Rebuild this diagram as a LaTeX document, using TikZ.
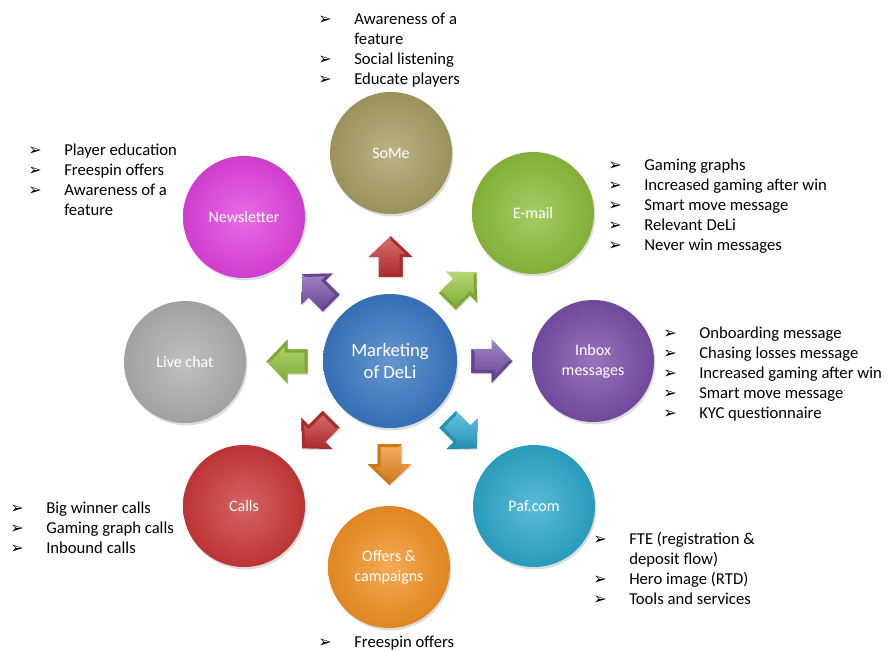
\documentclass[tikz,border=0pt]{standalone}
\usepackage{fontspec}
\setmainfont{Carlito}
\newfontfamily\symfont{DejaVu Sans}
\usetikzlibrary{shadows,calc}
\definecolor{cBlue}{RGB}{58,120,196}
\definecolor{cSoMe}{RGB}{168,158,100}
\definecolor{cMail}{RGB}{141,190,60}
\definecolor{cInbox}{RGB}{122,78,168}
\definecolor{cPaf}{RGB}{44,168,204}
\definecolor{cOffer}{RGB}{242,146,36}
\definecolor{cCalls}{RGB}{204,56,56}
\definecolor{cLive}{RGB}{175,175,175}
\definecolor{cNews}{RGB}{226,66,222}
\definecolor{aRed}{RGB}{200,50,50}
\definecolor{aGreen}{RGB}{150,198,60}
\definecolor{aPurple}{RGB}{120,80,170}
\definecolor{aCyan}{RGB}{40,170,210}
\definecolor{aOrange}{RGB}{240,140,30}
\newcommand{\bl}{\makebox[27pt][l]{\raisebox{0pt}{\symfont\fontsize{12}{10}\selectfont ➢}}}
\newcommand{\cont}{\hspace*{27pt}}
\tikzset{
  hub/.style={circle, minimum size=91.5pt, inner sep=0pt, align=center,
    text=white, font=\fontsize{12}{15}\selectfont,
    inner color=#1!78!white, outer color=#1!92!black,
    drop shadow={opacity=0.28, shadow xshift=1pt, shadow yshift=-1.8pt}},
  lst/.style={anchor=base west, inner sep=0pt, align=left,
    font=\fontsize{12.5}{15}\selectfont},
  pics/barrow/.style={code={
    \path[top color=#1!70!white, bottom color=#1!85!black,
      drop shadow={opacity=0.25, shadow xshift=0.6pt, shadow yshift=-1pt}]
      (-20,-12) -- (0,-12) -- (0,-22) -- (21,0) -- (0,22) -- (0,12) -- (-20,12) -- cycle;
    \fill[#1!85!black] (-20,12) -- (0,12) -- (0,22) -- (21,0) -- (17,0) -- (3,15) -- (3,9) -- (-17,9) -- (-17,-9) -- (-20,-12) -- cycle;
  }}
}
\begin{document}
\begin{tikzpicture}[x=0.75pt,y=-0.75pt]
\useasboundingbox (0,0) rectangle (889,652);
% hubs
\node[hub=cBlue, minimum size=100.5pt, font=\fontsize{14}{17}\selectfont] (ctr) at (390,361) {Marketing\\of DeLi};
\node[hub=cSoMe] (some) at (391,153) {SoMe};
\node[hub=cMail] (email) at (533,213) {E-mail};
\node[hub=cInbox] (inbox) at (593,361) {Inbox\\messages};
\node[hub=cPaf] (paf) at (534,506) {Paf.com};
\node[hub=cOffer] (offers) at (389,567) {Offers \&\\campaigns};
\node[hub=cCalls] (calls) at (244,506) {Calls};
\node[hub=cLive] (live) at (185,362) {Live chat};
\node[hub=cNews] (news) at (244,217) {Newsletter};
% block arrows
\pic[rotate=90]   at ($(ctr)!0.5!(some)$)   {barrow=aRed};
\pic[rotate=45]   at ($(ctr)!0.5!(email)$)  {barrow=aGreen};
\pic[rotate=0]    at ($(ctr)!0.5!(inbox)$)  {barrow=aPurple};
\pic[rotate=-45]  at ($(ctr)!0.5!(paf)$)    {barrow=aCyan};
\pic[rotate=-90]  at ($(ctr)!0.5!(offers)$) {barrow=aOrange};
\pic[rotate=-135] at ($(ctr)!0.5!(calls)$)  {barrow=aRed};
\pic[rotate=180]  at ($(ctr)!0.5!(live)$)   {barrow=aGreen};
\pic[rotate=135]  at ($(ctr)!0.5!(news)$)   {barrow=aPurple};
% lists (anchor = baseline of the last line)
\node[lst] (lsome) at (318,85) {\bl Awareness of a\\\cont feature\\\bl Social listening\\\bl Educate players};
\node[lst] (lnews) at (28,216) {\bl Player education\\\bl Freespin offers\\\bl Awareness of a\\\cont feature};
\node[lst] (lmail) at (608,251) {\bl Gaming graphs\\\bl Increased gaming after win\\\bl Smart move message\\\bl Relevant DeLi\\\bl Never win messages};
\node[lst] (linbox) at (663,418) {\bl Onboarding message\\\bl Chasing losses message\\\bl Increased gaming after win\\\bl Smart move message\\\bl KYC questionnaire};
\node[lst] (lpaf) at (593,604) {\bl FTE (registration \&\\\cont deposit flow)\\\bl Hero image (RTD)\\\bl Tools and services};
\node[lst] (lcalls) at (10,553) {\bl Big winner calls\\\bl Gaming graph calls\\\bl Inbound calls};
\node[lst] (loffers) at (318,647) {\bl Freespin offers};
\end{tikzpicture}
\end{document}
